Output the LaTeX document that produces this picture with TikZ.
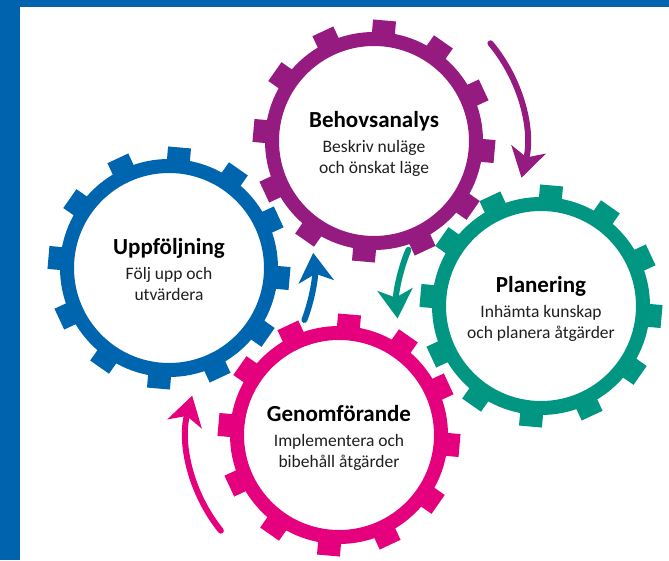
\documentclass[tikz,border=0pt]{standalone}
\usepackage{fontspec}
\setmainfont{Carlito}
\usetikzlibrary{arrows.meta,positioning}

\definecolor{bgblue}{HTML}{0063AE}
\definecolor{gblue}{HTML}{0065AF}
\definecolor{gpurple}{HTML}{951B81}
\definecolor{gteal}{HTML}{009682}
\definecolor{gpink}{HTML}{E5007D}

\tikzset{
  gtitle/.style={font=\bfseries\fontsize{23}{25}\selectfont,inner sep=0pt,text height=16pt,text depth=5pt},
  gsub/.style={font=\fontsize{17.5}{21}\selectfont,text=black!88,align=center,inner sep=0pt},
  flow/.style={line width=6pt,line cap=round,-{Stealth[length=29pt,width=35pt,inset=8pt]}}
}

% ring plus 12 teeth round a named coordinate
\newcommand{\gearwheel}[2]{%
  \fill[#2,even odd rule] (#1) circle[radius=109] (#1) circle[radius=95];
  \foreach \a in {85,115,...,415}
    \fill[#2,shift={(#1)},rotate=\a] (100,-11.5) -- (121,-11.5) -- (121,11.5) -- (100,11.5) -- cycle;
}

\begin{document}
\begin{tikzpicture}[x=1pt,y=1pt]
        \useasboundingbox (0,0) rectangle (669,560);

        %%%%%%%%% Frame %%%%%%%%%%
        \fill[bgblue] (0,0) rectangle (669,560);
        \fill[white] (20,0) rectangle (669,552.5);

        %%%%%%%%% Centres %%%%%%%%
        \coordinate (behov) at (374,419);
        \coordinate (uppf) at (169,292);
        \coordinate (plan) at (541,254);
        \coordinate (genom) at (339,125);

        %%%%%%%%% Arrows %%%%%%%%%
        \draw[flow,gpurple] ([shift={(40:152)}]behov) arc[start angle=40,end angle=-14,radius=152];
        \draw[flow,gteal] ([shift={(157:144)}]plan) arc[start angle=157,end angle=185,radius=144];
        \draw[flow,gpink] ([shift={(219:152)}]genom) arc[start angle=219,end angle=165,radius=152];
        \draw[flow,gblue] ([shift={(-21:145)}]uppf) arc[start angle=-21,end angle=6,radius=145];

        %%%%%%%%% Gears %%%%%%%%%%
        \gearwheel{uppf}{gblue}
        \gearwheel{behov}{gpurple}
        \gearwheel{plan}{gteal}
        \gearwheel{genom}{gpink}

        %%%%%%%%% Texts %%%%%%%%%%
        \node[gtitle] (behovT) at ([yshift=19pt]behov) {Behovsanalys};
        \node[gsub,below=7pt of behovT] (behovS) {Beskriv nuläge\\och önskat läge};
        \node[gtitle] (uppfT) at ([yshift=19pt]uppf) {Uppföljning};
        \node[gsub,below=7pt of uppfT] (uppfS) {Följ upp och\\utvärdera};
        \node[gtitle] (planT) at ([yshift=19pt]plan) {Planering};
        \node[gsub,below=7pt of planT] (planS) {Inhämta kunskap\\och planera åtgärder};
        \node[gtitle] (genomT) at ([yshift=19pt]genom) {Genomförande};
        \node[gsub,below=7pt of genomT] (genomS) {Implementera och\\bibehåll åtgärder};
\end{tikzpicture}
\end{document}
